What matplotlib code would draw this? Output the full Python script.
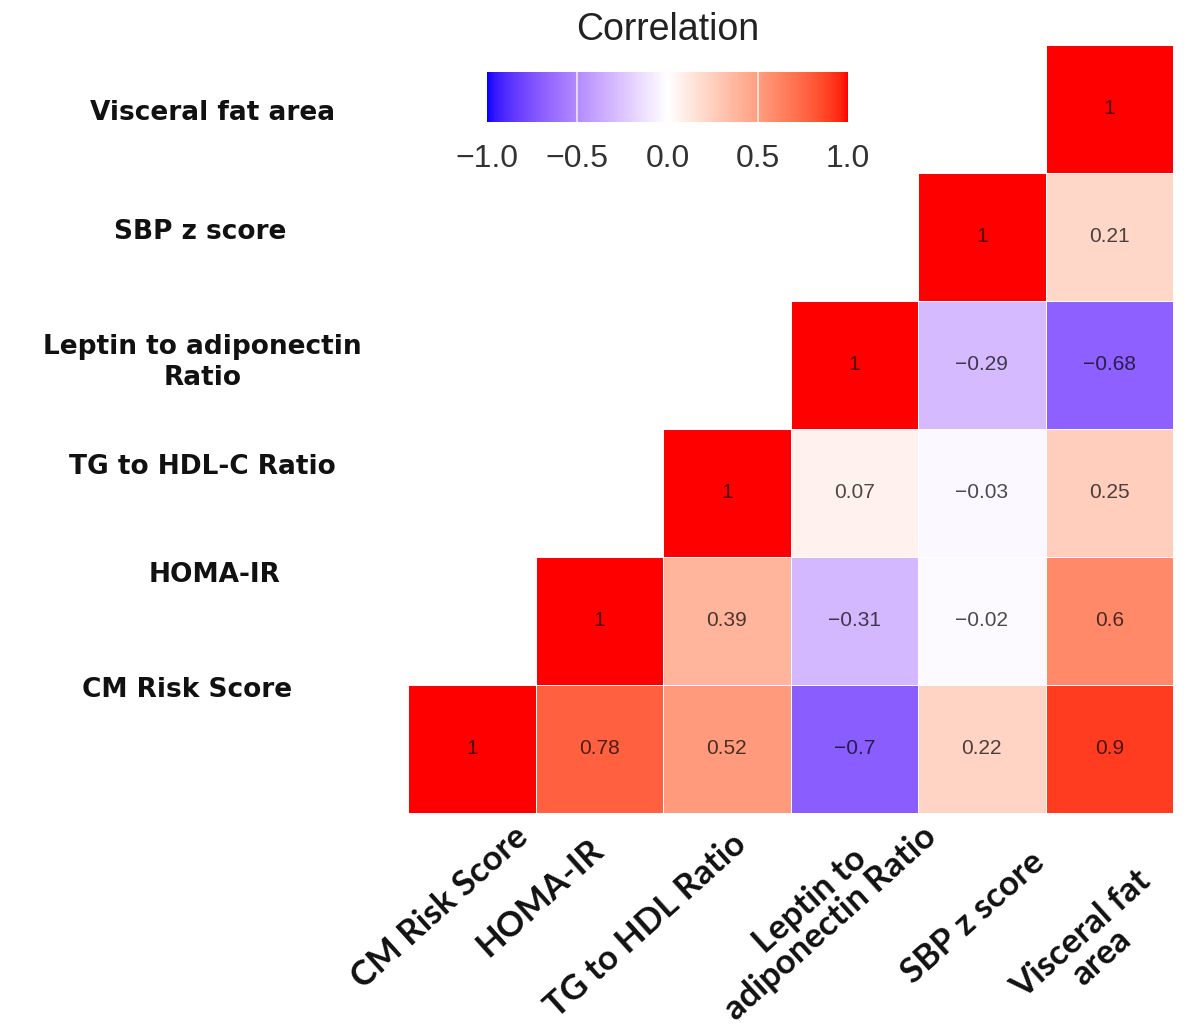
import numpy as np
import matplotlib
matplotlib.use("Agg")
import matplotlib.pyplot as plt
from matplotlib.colors import ListedColormap

# Variables (bottom row / left column first)
col_labels = ["CM Risk Score", "HOMA-IR", "TG to HDL Ratio",
              "Leptin to\nadiponectin Ratio", "SBP z score", "Visceral fat\narea"]
row_labels = ["CM Risk Score", "HOMA-IR", "TG to HDL-C Ratio",
              "Leptin to adiponectin\nRatio", "SBP z score", "Visceral fat area"]

# correlations per row (row i holds columns i..5)
r_cm = [1, 0.78, 0.52, -0.7, 0.22, 0.9]
r_homa = [1, 0.39, -0.31, -0.02, 0.6]
r_tg = [1, 0.07, -0.03, 0.25]
r_lep = [1, -0.29, -0.68]
r_sbp = [1, 0.21]
r_vfa = [1]
rows = [r_cm, r_homa, r_tg, r_lep, r_sbp, r_vfa]

n = len(col_labels)
mat = np.full((n, n), np.nan)
for i, vals in enumerate(rows):
    mat[i, i:] = vals
mat = np.ma.masked_invalid(mat)


# blue - white - red gradient interpolated in CIELAB (like ggplot gradient2)
def srgb_to_lab(c):
    c = np.asarray(c, float)
    lin = np.where(c <= 0.04045, c / 12.92, ((c + 0.055) / 1.055) ** 2.4)
    M = np.array([[0.4124, 0.3576, 0.1805],
                  [0.2126, 0.7152, 0.0722],
                  [0.0193, 0.1192, 0.9505]])
    xyz = M @ lin / np.array([0.95047, 1.0, 1.08883])
    f = np.where(xyz > 0.008856, np.cbrt(xyz), 7.787 * xyz + 16 / 116)
    return np.array([116 * f[1] - 16, 500 * (f[0] - f[1]), 200 * (f[1] - f[2])])


def lab_to_srgb(lab):
    L, a, b = lab
    fy = (L + 16) / 116
    fx = fy + a / 500
    fz = fy - b / 200
    f = np.array([fx, fy, fz])
    xyz = np.where(f ** 3 > 0.008856, f ** 3, (f - 16 / 116) / 7.787)
    xyz = xyz * np.array([0.95047, 1.0, 1.08883])
    Minv = np.array([[3.2406, -1.5372, -0.4986],
                     [-0.9689, 1.8758, 0.0415],
                     [0.0557, -0.2040, 1.0570]])
    lin = np.clip(Minv @ xyz, 0, 1)
    c = np.where(lin <= 0.0031308, 12.92 * lin, 1.055 * lin ** (1 / 2.4) - 0.055)
    return np.clip(c, 0, 1)


lab_blue = srgb_to_lab([0, 0, 1])
lab_white = srgb_to_lab([1, 1, 1])
lab_red = srgb_to_lab([1, 0, 0])
colors = []
for t in np.linspace(-1, 1, 256):
    if t < 0:
        lab = lab_white + (lab_blue - lab_white) * (-t)
    else:
        lab = lab_white + (lab_red - lab_white) * t
    colors.append(lab_to_srgb(lab))
cmap = ListedColormap(colors)

fig = plt.figure(figsize=(12, 10.33), dpi=100)
W, H = 1200, 1033

# heatmap axes
ax = fig.add_axes([408 / W, 1 - 813 / H, (1173 - 408) / W, (813 - 45) / H])
mesh = ax.pcolormesh(np.arange(n + 1), np.arange(n + 1), mat, cmap=cmap,
                     vmin=-1, vmax=1, edgecolors="white", linewidth=0.4)
ax.set_xlim(0, n)
ax.set_ylim(0, n)
ax.axis("off")

for i, vals in enumerate(rows):
    for k, v in enumerate(vals):
        j = i + k
        ax.text(j + 0.5, i + 0.5, f"{v:g}".replace("-", "\u2212"),
                ha="center", va="center", fontsize=15,
                family="Liberation Sans", color="black", alpha=0.7)

# column labels, rotated; anchors (top-right corner) as in the reference
col_label_x = [0.82, 1.41, 2.53, 3.86, 4.87, 5.70]
col_label_y = [-0.06, -0.16, -0.11, 0.12, -0.25, -0.40]
for j, lab in enumerate(col_labels):
    ax.text(col_label_x[j], col_label_y[j], lab, rotation=42, ha="right",
            va="top", rotation_mode="anchor", multialignment="center",
            fontsize=25, fontweight="bold", family="Lato", color="#111111",
            linespacing=0.95, clip_on=False)

# row labels (placed as in the reference, not centered on the rows)
row_label_y = [0.96, 1.86, 2.70, 3.52, 4.54, 5.47]
row_label_x = [-1.73, -1.52, -1.61, -1.61, -1.63, -1.53]
for i, lab in enumerate(row_labels):
    ax.text(row_label_x[i], row_label_y[i], lab, ha="center", va="center",
            multialignment="center", fontsize=19, fontweight="bold",
            family="DejaVu Sans", color="#111111", linespacing=1.25)

# colorbar
cax = fig.add_axes([487 / W, 1 - 122 / H, (848 - 487) / W, 50 / H])
cb = fig.colorbar(mesh, cax=cax, orientation="horizontal")
cb.outline.set_visible(False)
cb_ticks = [-1, -0.5, 0, 0.5, 1]
cb.set_ticks(cb_ticks)
cb.set_ticklabels(["\u22121.0", "\u22120.5", "0.0", "0.5", "1.0"])
for t in cb_ticks[1:-1]:
    cax.axvline(t, color="white", lw=1.2, alpha=0.8)
cax.tick_params(axis="x", length=0, labelsize=23, labelcolor="#333333", pad=16)
for lbl in cax.get_xticklabels():
    lbl.set_family("Liberation Sans")
fig.text(668 / W, 1 - 30 / H, "Correlation", ha="center", va="center",
         fontsize=27, family="Liberation Sans", color="#222222")

fig.savefig("out.png", dpi=100)
